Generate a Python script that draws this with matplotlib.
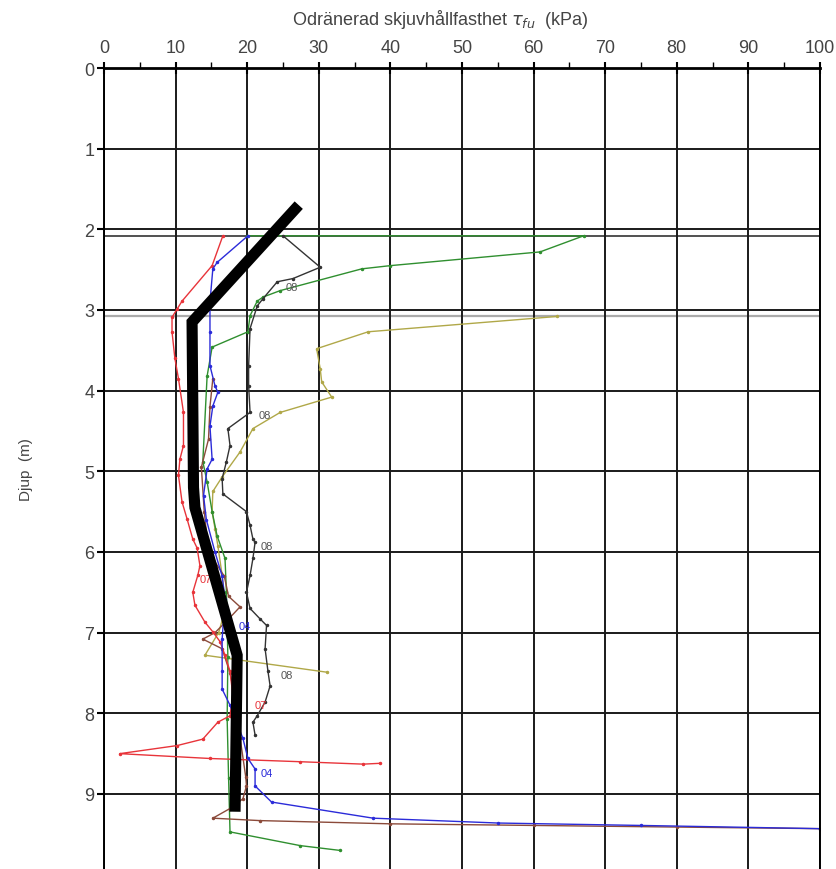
import matplotlib
matplotlib.use("Agg")
import matplotlib.pyplot as plt
from matplotlib.ticker import MultipleLocator

plt.rcParams['font.family'] = ['Liberation Sans', 'DejaVu Sans']

# vane test profiles, shear strength (kPa) vs depth (m)
red_x = [16.6, 15.1, 10.9, 10.2, 9.5, 9.5, 9.9, 10.4, 11.1, 11.1, 10.6, 10.4, 10.9, 11.6, 12.4, 13.0,
         13.4, 13.1, 12.4, 12.7, 14.1, 15.2, 16.2, 16.9, 17.6, 18.0, 17.6, 15.9, 13.8, 10.2, 2.2, 14.8,
         27.4, 36.2, 38.5]
red_y = [2.08, 2.45, 2.89, 2.99, 3.09, 3.27, 3.60, 3.85, 4.27, 4.68, 4.85, 5.05, 5.38, 5.59, 5.84, 5.95,
         6.17, 6.29, 6.50, 6.66, 6.87, 6.99, 7.11, 7.28, 7.48, 7.78, 8.03, 8.11, 8.32, 8.40, 8.50, 8.56,
         8.60, 8.63, 8.62]

blue_x = [20.1, 15.8, 15.2, 14.8, 14.8, 14.8, 15.5, 15.9, 15.2, 14.8, 15.1, 14.4, 13.9, 14.3, 15.5, 16.5,
          16.9, 16.5, 16.5, 16.5, 17.6, 19.4, 20.1, 21.1, 21.1, 23.4, 37.6, 55.0, 75.0, 100.0]
blue_y = [2.08, 2.41, 2.49, 2.90, 3.27, 3.69, 3.94, 4.02, 4.19, 4.44, 4.85, 4.97, 5.30, 5.60, 6.00, 6.30,
          6.58, 7.08, 7.48, 7.70, 7.90, 8.31, 8.56, 8.69, 8.90, 9.10, 9.30, 9.36, 9.39, 9.43]

green_x = [20.0, 67.0, 60.9, 40.0, 36.0, 24.6, 22.2, 21.4, 20.4, 20.1, 15.1, 14.4, 13.8, 14.4, 15.1, 15.8,
           16.9, 17.1, 17.3, 17.2, 17.4, 17.6, 27.4, 33.0]
green_y = [2.08, 2.08, 2.28, 2.45, 2.49, 2.76, 2.84, 2.89, 3.07, 3.27, 3.46, 3.82, 4.88, 5.13, 5.50, 5.80,
           6.08, 6.50, 7.30, 8.07, 8.80, 9.47, 9.64, 9.70]

olive_x = [63.3, 36.9, 29.7, 30.2, 30.4, 31.8, 24.6, 20.8, 19.0, 16.5, 15.2, 15.1, 15.5, 15.9, 16.5, 17.0,
           16.0, 14.1, 31.1]
olive_y = [3.08, 3.27, 3.48, 3.73, 3.89, 4.08, 4.27, 4.47, 4.76, 5.07, 5.25, 5.50, 5.71, 5.92, 6.29, 6.70,
           7.00, 7.28, 7.49]

black_x = [25.0, 30.2, 26.4, 24.2, 22.2, 21.4, 20.4, 20.2, 20.2, 20.4, 17.3, 17.6, 17.1, 16.5, 16.6, 19.9,
           20.4, 20.8, 21.1, 20.8, 20.4, 19.9, 20.4, 21.8, 22.7, 22.5, 22.9, 23.2, 22.5, 21.4, 20.8, 21.1]
black_y = [2.08, 2.47, 2.61, 2.65, 2.86, 2.95, 3.23, 3.69, 3.94, 4.27, 4.47, 4.68, 4.88, 5.09, 5.28, 5.50,
           5.67, 5.84, 5.88, 6.08, 6.29, 6.50, 6.70, 6.83, 6.91, 7.20, 7.48, 7.66, 7.86, 8.03, 8.11, 8.27]

brown_x = [15.2, 14.8, 14.6, 13.6, 14.0, 14.6, 16.8, 17.4, 19.0, 17.2, 15.5, 13.8, 16.5, 17.6, 18.5, 19.0,
           19.8, 19.9, 19.4, 17.6, 15.2, 21.8, 40.0, 60.0, 80.0, 100.0]
brown_y = [3.85, 4.20, 4.60, 4.95, 5.50, 6.00, 6.30, 6.55, 6.68, 6.85, 7.00, 7.08, 7.20, 7.50, 7.90, 8.30,
           8.79, 8.90, 9.06, 9.18, 9.30, 9.33, 9.37, 9.39, 9.41, 9.43]

# evaluated design line
design_x = [27.2, 12.3, 12.5, 12.7, 18.6, 18.3]
design_y = [1.70, 3.15, 5.20, 5.45, 7.28, 9.22]

# borehole labels: (x, y, text, colour)
labels = [(25.4, 2.72, "08", "#555555"), (21.6, 4.30, "08", "#555555"), (21.9, 5.93, "08", "#555555"),
          (24.6, 7.52, "08", "#555555"), (18.8, 6.92, "04", "#2b2bd9"), (21.9, 8.74, "04", "#2b2bd9"),
          (21.0, 7.90, "07", "#e8343a"), (13.3, 6.33, "07", "#e8343a")]

fig = plt.figure(figsize=(8.36, 8.70), dpi=100)
ax = fig.add_axes([104 / 836, 0.0, 716 / 836, 1 - 69 / 870])

ax.set_xlim(0, 100)
ax.set_ylim(9.93, 0)

ax.xaxis.set_major_locator(MultipleLocator(10))
ax.xaxis.set_minor_locator(MultipleLocator(5))
ax.yaxis.set_major_locator(MultipleLocator(1))
ax.xaxis.tick_top()
ax.xaxis.set_label_position('top')

ax.grid(True, which='major', color='#1a1a1a', lw=1.4)
ax.axhline(2.08, color='#222222', lw=1.1, zorder=1)
ax.axhline(3.07, color='#aaaaaa', lw=1.6, zorder=1)

ms = dict(marker='.', ms=3, lw=1.0)
ax.plot(olive_x, olive_y, color='#b0a848', **ms)
ax.plot(green_x, green_y, color='#2f8f2f', **ms)
ax.plot(brown_x, brown_y, color='#8b4a3a', **ms)
ax.plot(black_x, black_y, color='#333333', **ms)
ax.plot(red_x, red_y, color='#e8343a', **ms)
ax.plot(blue_x, blue_y, color='#2b2bd9', **ms)
ax.plot(design_x, design_y, color='black', lw=8, solid_capstyle='butt', solid_joinstyle='miter', zorder=5)

for x, y, t, c in labels:
    ax.text(x, y, t, color=c, fontsize=8, va='center', ha='left', zorder=4)

ax.spines['bottom'].set_visible(False)
ax.spines['top'].set_linewidth(2)
ax.spines['left'].set_linewidth(1.4)
ax.spines['right'].set_linewidth(1.4)

ax.tick_params(axis='x', which='major', direction='inout', length=9, width=1.5,
               labelsize=13, labelcolor='#444444', pad=4)
ax.tick_params(axis='x', which='minor', direction='out', length=4, width=1)
ax.tick_params(axis='y', which='major', direction='out', length=5, width=1.5,
               labelsize=13, labelcolor='#444444', pad=2)

ax.set_xlabel(r"Odränerad skjuvhållfasthet $\tau_{fu}$  (kPa)", fontsize=13, color='#444444', labelpad=8)
ax.xaxis.set_label_coords(0.47, 1.055)
ax.set_ylabel("Djup  (m)", fontsize=11, color='#444444', labelpad=37)

fig.savefig("out.png", dpi=100)
